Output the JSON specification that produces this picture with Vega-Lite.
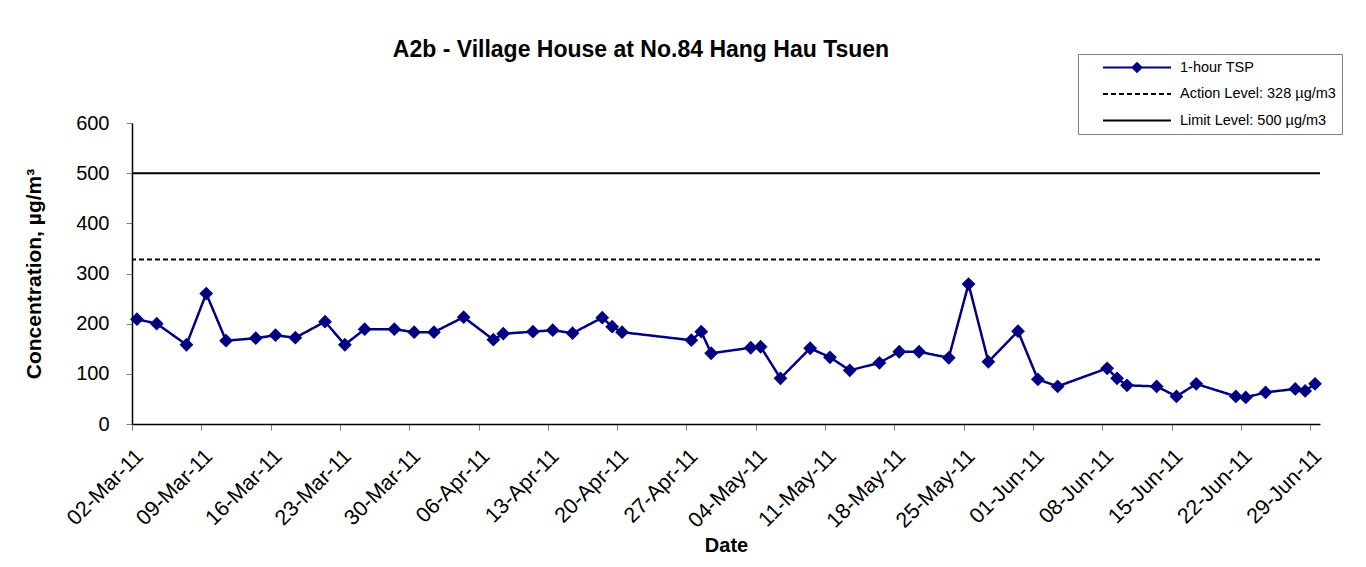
{
  "$schema": "https://vega.github.io/schema/vega-lite/v6.json",
  "width": 1188,
  "height": 301,
  "autosize": {"type": "none"},
  "padding": {"left": 132, "top": 123, "right": 46, "bottom": 143},
  "background": "white",
  "config": {"font": "Liberation Sans", "view": {"stroke": null}},
  "title": {"text": "A2b - Village House at No.84 Hang Hau Tsuen", "fontSize": 23, "font": "Liberation Sans", "fontWeight": "bold", "anchor": "middle", "dx": -85, "offset": -8, "color": "black"},
  "datasets": {
    "levels": [
      {"series": "Action Level: 328 µg/m3", "value": 328},
      {"series": "Limit Level: 500 µg/m3", "value": 500}
    ],
    "tsp": [
      {"series": "1-hour TSP", "date": "2011-03-02T12:00", "value": 209},
      {"series": "1-hour TSP", "date": "2011-03-04T12:00", "value": 200},
      {"series": "1-hour TSP", "date": "2011-03-07T12:00", "value": 158},
      {"series": "1-hour TSP", "date": "2011-03-09T12:00", "value": 260},
      {"series": "1-hour TSP", "date": "2011-03-11T12:00", "value": 166},
      {"series": "1-hour TSP", "date": "2011-03-14T12:00", "value": 171},
      {"series": "1-hour TSP", "date": "2011-03-16T12:00", "value": 177},
      {"series": "1-hour TSP", "date": "2011-03-18T12:00", "value": 172},
      {"series": "1-hour TSP", "date": "2011-03-21T12:00", "value": 204},
      {"series": "1-hour TSP", "date": "2011-03-23T12:00", "value": 158},
      {"series": "1-hour TSP", "date": "2011-03-25T12:00", "value": 189},
      {"series": "1-hour TSP", "date": "2011-03-28T12:00", "value": 189},
      {"series": "1-hour TSP", "date": "2011-03-30T12:00", "value": 183},
      {"series": "1-hour TSP", "date": "2011-04-01T12:00", "value": 183},
      {"series": "1-hour TSP", "date": "2011-04-04T12:00", "value": 213},
      {"series": "1-hour TSP", "date": "2011-04-07T12:00", "value": 168},
      {"series": "1-hour TSP", "date": "2011-04-08T12:00", "value": 180},
      {"series": "1-hour TSP", "date": "2011-04-11T12:00", "value": 184},
      {"series": "1-hour TSP", "date": "2011-04-13T12:00", "value": 187},
      {"series": "1-hour TSP", "date": "2011-04-15T12:00", "value": 181},
      {"series": "1-hour TSP", "date": "2011-04-18T12:00", "value": 212},
      {"series": "1-hour TSP", "date": "2011-04-19T12:00", "value": 194},
      {"series": "1-hour TSP", "date": "2011-04-20T12:00", "value": 183},
      {"series": "1-hour TSP", "date": "2011-04-27T12:00", "value": 167},
      {"series": "1-hour TSP", "date": "2011-04-28T12:00", "value": 184},
      {"series": "1-hour TSP", "date": "2011-04-29T12:00", "value": 141},
      {"series": "1-hour TSP", "date": "2011-05-03T12:00", "value": 152},
      {"series": "1-hour TSP", "date": "2011-05-04T12:00", "value": 154},
      {"series": "1-hour TSP", "date": "2011-05-06T12:00", "value": 91},
      {"series": "1-hour TSP", "date": "2011-05-09T12:00", "value": 151},
      {"series": "1-hour TSP", "date": "2011-05-11T12:00", "value": 133},
      {"series": "1-hour TSP", "date": "2011-05-13T12:00", "value": 107},
      {"series": "1-hour TSP", "date": "2011-05-16T12:00", "value": 122},
      {"series": "1-hour TSP", "date": "2011-05-18T12:00", "value": 144},
      {"series": "1-hour TSP", "date": "2011-05-20T12:00", "value": 144},
      {"series": "1-hour TSP", "date": "2011-05-23T12:00", "value": 132},
      {"series": "1-hour TSP", "date": "2011-05-25T12:00", "value": 279},
      {"series": "1-hour TSP", "date": "2011-05-27T12:00", "value": 124},
      {"series": "1-hour TSP", "date": "2011-05-30T12:00", "value": 185},
      {"series": "1-hour TSP", "date": "2011-06-01T12:00", "value": 89},
      {"series": "1-hour TSP", "date": "2011-06-03T12:00", "value": 75},
      {"series": "1-hour TSP", "date": "2011-06-08T12:00", "value": 111},
      {"series": "1-hour TSP", "date": "2011-06-09T12:00", "value": 91},
      {"series": "1-hour TSP", "date": "2011-06-10T12:00", "value": 77},
      {"series": "1-hour TSP", "date": "2011-06-13T12:00", "value": 75},
      {"series": "1-hour TSP", "date": "2011-06-15T12:00", "value": 55},
      {"series": "1-hour TSP", "date": "2011-06-17T12:00", "value": 80},
      {"series": "1-hour TSP", "date": "2011-06-21T12:00", "value": 55},
      {"series": "1-hour TSP", "date": "2011-06-22T12:00", "value": 53},
      {"series": "1-hour TSP", "date": "2011-06-24T12:00", "value": 63},
      {"series": "1-hour TSP", "date": "2011-06-27T12:00", "value": 70},
      {"series": "1-hour TSP", "date": "2011-06-28T12:00", "value": 66},
      {"series": "1-hour TSP", "date": "2011-06-29T12:00", "value": 80}
    ]
  },
  "encoding": {
    "y": {
      "field": "value",
      "type": "quantitative",
      "scale": {"domain": [0, 600], "nice": false},
      "axis": {
        "values": [0, 100, 200, 300, 400, 500, 600],
        "title": "Concentration, µg/m³",
        "titleFontSize": 21,
        "titleFontWeight": "bold",
        "titleColor": "black",
        "titlePadding": 31,
        "labelFontSize": 20,
        "labelColor": "black",
        "labelPadding": 17,
        "tickSize": 6,
        "tickColor": "#808080",
        "domainColor": "black",
        "domainWidth": 1.5,
        "grid": false
      }
    },
    "color": {
      "field": "series",
      "type": "nominal",
      "scale": {
        "domain": ["1-hour TSP", "Action Level: 328 µg/m3", "Limit Level: 500 µg/m3"],
        "range": ["#000080", "#000000", "#000000"]
      },
      "legend": {
        "orient": "none",
        "legendX": 946,
        "legendY": -69,
        "title": null,
        "strokeColor": "#808080",
        "fillColor": "white",
        "padding": 6,
        "labelFontSize": 14.5,
        "labelFont": "Liberation Sans",
        "labelColor": "black",
        "symbolSize": 4624,
        "symbolStrokeWidth": 2,
        "clipHeight": 15,
        "rowPadding": 10.5,
        "symbolOffset": 18,
        "labelOffset": 8,
        "encode": {
          "symbols": {
            "update": {
              "shape": {"signal": "datum.value === '1-hour TSP' ? 'M-1,0H1M0,-0.13L0.13,0L0,0.13L-0.13,0Z' : 'M-1,0H1'"},
              "fill": {"signal": "datum.value === '1-hour TSP' ? '#000080' : 'transparent'"}
            }
          }
        }
      }
    },
    "strokeDash": {
      "field": "series",
      "type": "nominal",
      "scale": {
        "domain": ["1-hour TSP", "Action Level: 328 µg/m3", "Limit Level: 500 µg/m3"],
        "range": [[1, 0], [5, 3], [1, 0]]
      },
      "legend": {
        "orient": "none",
        "legendX": 946,
        "legendY": -69,
        "title": null,
        "strokeColor": "#808080",
        "fillColor": "white",
        "padding": 6,
        "labelFontSize": 14.5,
        "labelFont": "Liberation Sans",
        "labelColor": "black",
        "symbolSize": 4624,
        "symbolStrokeWidth": 2,
        "clipHeight": 15,
        "rowPadding": 10.5,
        "symbolOffset": 18,
        "labelOffset": 8
      }
    }
  },
  "layer": [
    {
      "data": {"name": "levels"},
      "mark": {"type": "rule", "strokeWidth": 2}
    },
    {
      "data": {"name": "tsp"},
      "mark": {"type": "line", "strokeWidth": 2.5, "point": {"shape": "diamond", "size": 190, "filled": true, "color": "#000080", "opacity": 1}},
      "encoding": {
        "x": {
          "field": "date",
          "type": "temporal",
          "scale": {"domain": [{"year": 2011, "month": 3, "date": 2}, {"year": 2011, "month": 6, "date": 30}]},
          "axis": {
            "values": [
              {"year": 2011, "month": 3, "date": 2},
              {"year": 2011, "month": 3, "date": 9},
              {"year": 2011, "month": 3, "date": 16},
              {"year": 2011, "month": 3, "date": 23},
              {"year": 2011, "month": 3, "date": 30},
              {"year": 2011, "month": 4, "date": 6},
              {"year": 2011, "month": 4, "date": 13},
              {"year": 2011, "month": 4, "date": 20},
              {"year": 2011, "month": 4, "date": 27},
              {"year": 2011, "month": 5, "date": 4},
              {"year": 2011, "month": 5, "date": 11},
              {"year": 2011, "month": 5, "date": 18},
              {"year": 2011, "month": 5, "date": 25},
              {"year": 2011, "month": 6, "date": 1},
              {"year": 2011, "month": 6, "date": 8},
              {"year": 2011, "month": 6, "date": 15},
              {"year": 2011, "month": 6, "date": 22},
              {"year": 2011, "month": 6, "date": 29}
            ],
            "format": "%d-%b-%y",
            "labelAngle": -45,
            "labelFontSize": 21.5,
            "labelColor": "black",
            "labelPadding": 15,
            "labelOverlap": false,
            "labelFlush": false,
            "title": "Date",
            "titleFontSize": 20,
            "titleFontWeight": "bold",
            "titleColor": "black",
            "titlePadding": 4,
            "tickSize": 6,
            "tickColor": "#808080",
            "domainColor": "black",
            "domainWidth": 1.5,
            "grid": false
          }
        }
      }
    }
  ]
}
